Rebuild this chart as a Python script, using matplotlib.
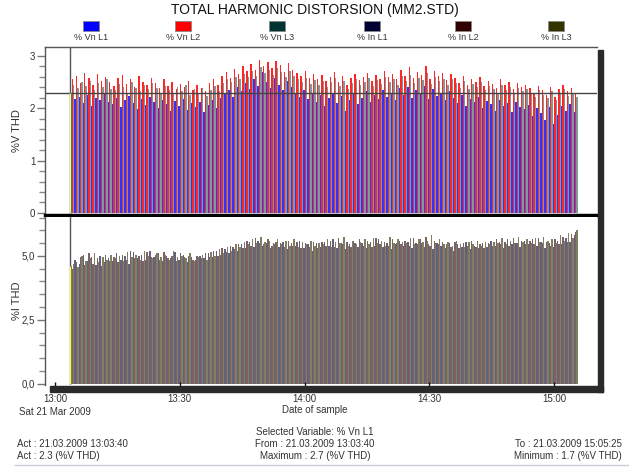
import numpy as np
import matplotlib
matplotlib.use("Agg")
import matplotlib.pyplot as plt
from matplotlib import font_manager
from matplotlib.patches import Rectangle
from matplotlib.ticker import MultipleLocator, FixedLocator

names = {f.name for f in font_manager.fontManager.ttflist}
narrow = 'Liberation Sans Narrow' if 'Liberation Sans Narrow' in names else 'Liberation Sans'
plt.rcParams['font.family'] = [narrow, 'DejaVu Sans']

# minutes after 13:00 of the first sample (13:03:40), one sample per minute
t0 = 3 + 40 / 60.0

series_names = ['% Vn L1', '% Vn L2', '% Vn L3', '% In L1', '% In L2', '% In L3']
series_colors = ['#0000ff', '#ff0000', '#003333', '#000033', '#330000', '#333300']

vn_l1 = [2.30, 2.18, 2.22, 2.10, 2.25, 2.05, 2.20, 2.15, 2.28, 2.12,
         2.08, 2.20, 2.02, 2.15, 2.24, 2.10, 1.98, 2.18, 2.06, 2.22,
         2.12, 2.00, 2.16, 2.08, 1.95, 2.14, 2.05, 2.18, 1.96, 2.10,
         2.02, 2.12, 1.92, 2.06, 2.15, 2.00, 2.20, 2.28, 2.35, 2.22,
         2.40, 2.32, 2.48, 2.36, 2.55, 2.42, 2.70, 2.50, 2.38, 2.58,
         2.45, 2.34, 2.52, 2.40, 2.30, 2.22, 2.35, 2.18, 2.28, 2.12,
         2.25, 2.05, 2.20, 2.30, 2.10, 2.24, 1.95, 2.15, 2.28, 2.08,
         2.20, 2.32, 2.12, 2.26, 2.18, 2.35, 2.22, 2.30, 2.15, 2.38,
         2.25, 2.40, 2.20, 2.34, 2.28, 2.42, 2.18, 2.36, 2.24, 2.30,
         2.15, 2.32, 2.20, 2.10, 2.26, 2.05, 2.18, 2.12, 2.22, 2.00,
         2.14, 2.08, 1.95, 2.16, 2.04, 2.10, 1.92, 2.12, 2.02, 1.98,
         2.06, 1.85, 2.00, 1.90, 1.78, 2.02, 1.70, 1.88, 2.05, 1.95, 2.08, 1.92]

vn_l2 = [2.55, 2.62, 2.48, 2.68, 2.58, 2.45, 2.66, 2.52, 2.60, 2.50,
         2.42, 2.58, 2.64, 2.46, 2.55, 2.40, 2.62, 2.50, 2.44, 2.57,
         2.48, 2.38, 2.55, 2.42, 2.50, 2.36, 2.46, 2.40, 2.52, 2.34,
         2.44, 2.38, 2.32, 2.48, 2.56, 2.45, 2.62, 2.70, 2.58, 2.75,
         2.66, 2.80, 2.72, 2.85, 2.74, 2.92, 2.80, 2.88, 2.76, 2.90,
         2.82, 2.70, 2.86, 2.74, 2.68, 2.62, 2.72, 2.58, 2.66, 2.55,
         2.64, 2.52, 2.60, 2.70, 2.50, 2.62, 2.45, 2.58, 2.66, 2.54,
         2.60, 2.68, 2.52, 2.64, 2.56, 2.72, 2.60, 2.66, 2.55, 2.74,
         2.62, 2.78, 2.58, 2.70, 2.64, 2.80, 2.56, 2.72, 2.62, 2.68,
         2.54, 2.66, 2.58, 2.48, 2.62, 2.45, 2.56, 2.50, 2.60, 2.42,
         2.52, 2.46, 2.38, 2.55, 2.44, 2.50, 2.36, 2.48, 2.40, 2.45,
         2.38, 2.30, 2.42, 2.34, 2.26, 2.40, 2.22, 2.36, 2.44, 2.32, 2.38, 2.30]

vn_l3 = [2.45, 2.38, 2.50, 2.42, 2.52, 2.35, 2.48, 2.40, 2.55, 2.36,
         2.34, 2.46, 2.40, 2.30, 2.50, 2.38, 2.32, 2.44, 2.36, 2.48,
         2.38, 2.30, 2.42, 2.34, 2.28, 2.40, 2.32, 2.44, 2.26, 2.36,
         2.30, 2.38, 2.24, 2.34, 2.42, 2.32, 2.48, 2.55, 2.50, 2.60,
         2.56, 2.66, 2.60, 2.72, 2.62, 2.78, 2.68, 2.74, 2.64, 2.76,
         2.70, 2.60, 2.72, 2.62, 2.55, 2.50, 2.58, 2.46, 2.54, 2.44,
         2.52, 2.40, 2.50, 2.58, 2.42, 2.52, 2.36, 2.48, 2.56, 2.44,
         2.50, 2.58, 2.42, 2.54, 2.46, 2.60, 2.50, 2.56, 2.44, 2.62,
         2.52, 2.64, 2.48, 2.58, 2.54, 2.68, 2.46, 2.60, 2.52, 2.56,
         2.44, 2.56, 2.48, 2.38, 2.52, 2.36, 2.46, 2.40, 2.50, 2.34,
         2.42, 2.36, 2.30, 2.44, 2.34, 2.40, 2.28, 2.38, 2.32, 2.36,
         2.30, 2.22, 2.34, 2.26, 2.20, 2.32, 2.16, 2.28, 2.36, 2.24, 2.30, 2.22]

in_l1 = [4.60, 4.85, 4.70, 5.05, 4.80, 4.95, 4.65, 5.00, 4.75, 4.90,
         4.80, 5.10, 4.85, 5.00, 4.70, 5.15, 4.90, 5.05, 4.85, 5.20,
         4.95, 5.10, 4.80, 5.00, 4.90, 5.15, 4.85, 5.05, 4.75, 4.95,
         4.85, 5.00, 4.90, 5.10, 4.95, 5.20, 5.05, 5.25, 5.10, 5.35,
         5.20, 5.45, 5.30, 5.55, 5.35, 5.60, 5.40, 5.50, 5.30, 5.45,
         5.35, 5.55, 5.25, 5.50, 5.40, 5.60, 5.30, 5.45, 5.20, 5.50,
         5.35, 5.55, 5.40, 5.65, 5.30, 5.50, 5.25, 5.45, 5.60, 5.35,
         5.50, 5.30, 5.55, 5.40, 5.65, 5.35, 5.50, 5.25, 5.45, 5.60,
         5.40, 5.55, 5.30, 5.50, 5.65, 5.35, 5.45, 5.25, 5.50, 5.40,
         5.30, 5.50, 5.20, 5.45, 5.35, 5.55, 5.25, 5.40, 5.30, 5.50,
         5.35, 5.60, 5.40, 5.55, 5.30, 5.65, 5.45, 5.50, 5.35, 5.60,
         5.45, 5.65, 5.40, 5.55, 5.30, 5.50, 5.35, 5.60, 5.45, 5.70, 5.55, 5.80]

in_l2 = [4.50, 4.75, 4.95, 4.65, 5.10, 4.70, 4.90, 4.60, 5.05, 4.80,
         4.95, 4.75, 5.05, 4.85, 5.20, 4.90, 5.00, 4.80, 5.15, 4.95,
         5.05, 4.85, 5.15, 4.90, 5.00, 4.80, 5.10, 4.95, 5.00, 4.85,
         5.00, 4.90, 5.10, 4.95, 5.20, 5.00, 5.30, 5.15, 5.40, 5.25,
         5.45, 5.30, 5.60, 5.40, 5.70, 5.50, 5.45, 5.65, 5.40, 5.55,
         5.50, 5.35, 5.60, 5.40, 5.55, 5.30, 5.50, 5.35, 5.55, 5.30,
         5.55, 5.40, 5.60, 5.35, 5.70, 5.45, 5.55, 5.35, 5.50, 5.65,
         5.40, 5.60, 5.35, 5.70, 5.45, 5.55, 5.40, 5.65, 5.50, 5.45,
         5.60, 5.40, 5.70, 5.45, 5.50, 5.75, 5.40, 5.60, 5.45, 5.55,
         5.45, 5.35, 5.55, 5.30, 5.50, 5.40, 5.60, 5.35, 5.45, 5.30,
         5.50, 5.40, 5.65, 5.45, 5.55, 5.40, 5.70, 5.50, 5.60, 5.45,
         5.60, 5.45, 5.70, 5.50, 5.55, 5.40, 5.65, 5.45, 5.75, 5.55, 5.85, 5.95]

in_l3 = [4.70, 4.55, 5.00, 4.80, 4.90, 5.10, 4.75, 4.95, 4.85, 5.05,
         4.90, 5.00, 4.80, 5.15, 4.95, 5.05, 4.85, 5.20, 5.00, 4.90,
         5.10, 4.95, 5.05, 4.85, 5.20, 4.95, 5.00, 4.90, 5.10, 4.80,
         4.95, 5.05, 4.85, 5.15, 5.00, 5.25, 5.10, 5.35, 5.20, 5.45,
         5.35, 5.55, 5.45, 5.65, 5.50, 5.75, 5.55, 5.60, 5.50, 5.65,
         5.45, 5.60, 5.40, 5.65, 5.35, 5.55, 5.45, 5.60, 5.40, 5.50,
         5.45, 5.65, 5.35, 5.55, 5.50, 5.75, 5.40, 5.60, 5.45, 5.55,
         5.65, 5.45, 5.70, 5.50, 5.60, 5.40, 5.75, 5.50, 5.65, 5.55,
         5.50, 5.70, 5.45, 5.65, 5.55, 5.60, 5.80, 5.50, 5.65, 5.45,
         5.55, 5.40, 5.60, 5.45, 5.35, 5.55, 5.45, 5.60, 5.40, 5.55,
         5.45, 5.55, 5.50, 5.70, 5.45, 5.60, 5.50, 5.75, 5.55, 5.65,
         5.50, 5.70, 5.55, 5.75, 5.60, 5.65, 5.50, 5.80, 5.60, 5.90, 5.70, 6.00]

xtick_pos = [0, 30, 60, 90, 120]
xtick_labels = ['13:00\nSat 21 Mar 2009', '13:30', '14:00', '14:30', '15:00']

W, H = 629, 468
fig = plt.figure(figsize=(W / 100, H / 100), dpi=100)
fig.patch.set_facecolor('white')

def fx(px):
    return px / W

def fy(py):
    return 1 - py / H

# drop shadow of the plot frame
fig.patches.append(Rectangle((fx(598), fy(392)), fx(5), fy(50) - fy(392),
                             transform=fig.transFigure, color='#2a2a2a', zorder=0))
fig.patches.append(Rectangle((fx(50), fy(392)), fx(553), fy(386) - fy(392),
                             transform=fig.transFigure, color='#2a2a2a', zorder=0))

ax1 = fig.add_axes([fx(45), fy(215), fx(552), fy(47) - fy(215)])
ax2 = fig.add_axes([fx(45), fy(385), fx(552), fy(217) - fy(385)])

n = len(vn_l1)
times = t0 + np.arange(n)
bw = 1 / 3.0

top_alpha = [0.8, 0.85, 0.5]
for k, (vals, c) in enumerate(zip([vn_l1, vn_l2, vn_l3], series_colors[:3])):
    ax1.bar(times + k * bw, vals, width=bw, align='edge', color=c, alpha=top_alpha[k], linewidth=0)
for k, (vals, c) in enumerate(zip([in_l1, in_l2, in_l3], series_colors[3:])):
    ax2.bar(times + k * bw, vals, width=bw, align='edge', color=c, alpha=0.62, linewidth=0)

# cursor
ax1.axhline(vn_l1[0], color='#444444', lw=1)
for ax, v in [(ax1, vn_l1[0]), (ax2, in_l1[0])]:
    ax.axvline(t0, color='#555555', lw=1)
    ax.vlines(t0, 0, v, color='#ffff40', lw=1, zorder=5)

for ax in (ax1, ax2):
    ax.set_xlim(-2.4, 130.3)
    ax.set_facecolor('white')
    for s in ax.spines.values():
        s.set_color('#555555')
        s.set_linewidth(1)
    ax.tick_params(axis='y', which='major', length=6, width=1, color='#777777',
                   labelsize=7, pad=1, labelcolor='#333333')
    ax.tick_params(axis='y', which='minor', length=4, width=1, color='#888888')

ax1.set_ylim(-0.04, 3.17)
ax1.yaxis.set_major_locator(FixedLocator([0, 1, 2, 3]))
ax1.yaxis.set_minor_locator(MultipleLocator(0.2))
ax1.set_yticklabels(['0', '1', '2', '3'])
ax1.set_xticks([])
ax1.spines['bottom'].set_linewidth(2.5)
ax1.spines['bottom'].set_color('black')
ax1.spines['right'].set_visible(False)
ax1.set_ylabel('%V THD', fontsize=8, color='#333333')
ax1.yaxis.set_label_coords(-0.042, 0.5)

ax2.set_ylim(-0.05, 6.52)
ax2.yaxis.set_major_locator(FixedLocator([0, 2.5, 5]))
ax2.yaxis.set_minor_locator(MultipleLocator(0.5))
ax2.set_yticklabels(['0,0', '2,5', '5,0'])
ax2.spines['top'].set_visible(False)
ax2.spines['right'].set_visible(False)
ax2.spines['bottom'].set_visible(False)
ax2.set_xticks(xtick_pos)
ax2.set_xticklabels(xtick_labels, fontsize=7, color='#333333', linespacing=1.35)
ax2.tick_params(axis='x', length=4, width=1, color='#111111', direction='inout', pad=4.5)
ax2.set_ylabel('%I THD', fontsize=8, color='#333333')
ax2.yaxis.set_label_coords(-0.042, 0.5)

fig.text(0.5, fy(10), 'TOTAL HARMONIC DISTORSION (MM2.STD)', ha='center', va='center',
         fontsize=10, color='#111111')

leg_x = [91, 183, 277, 372, 463, 556]
for x, name, c in zip(leg_x, series_names, series_colors):
    fig.patches.append(Rectangle((fx(x - 8), fy(31)), fx(16), fy(21) - fy(31),
                                 transform=fig.transFigure, facecolor=c,
                                 edgecolor='#888888', lw=0.6))
    fig.text(fx(x), fy(38), name, ha='center', va='center', fontsize=6.5, color='#333333')

fig.text(fx(315), fy(410), 'Date of sample', ha='center', va='center', fontsize=7, color='#333333')
fig.text(fx(315), fy(432), 'Selected Variable: % Vn L1', ha='center', va='center', fontsize=7, color='#333333')
fig.text(fx(17), fy(444), 'Act : 21.03.2009 13:03:40', ha='left', va='center', fontsize=7, color='#333333')
fig.text(fx(315), fy(444), 'From : 21.03.2009 13:03:40', ha='center', va='center', fontsize=7, color='#333333')
fig.text(fx(622), fy(444), 'To : 21.03.2009 15:05:25', ha='right', va='center', fontsize=7, color='#333333')
fig.text(fx(17), fy(456), 'Act : 2.3 (%V THD)', ha='left', va='center', fontsize=7, color='#333333')
fig.text(fx(315), fy(456), 'Maximum : 2.7 (%V THD)', ha='center', va='center', fontsize=7, color='#333333')
fig.text(fx(622), fy(456), 'Minimum : 1.7 (%V THD)', ha='right', va='center', fontsize=7, color='#333333')
fig.add_artist(plt.Line2D([fx(15), 1], [fy(465), fy(465)], transform=fig.transFigure,
                          color='#c8ccd8', lw=1))

fig.savefig('out.png', dpi=100)
